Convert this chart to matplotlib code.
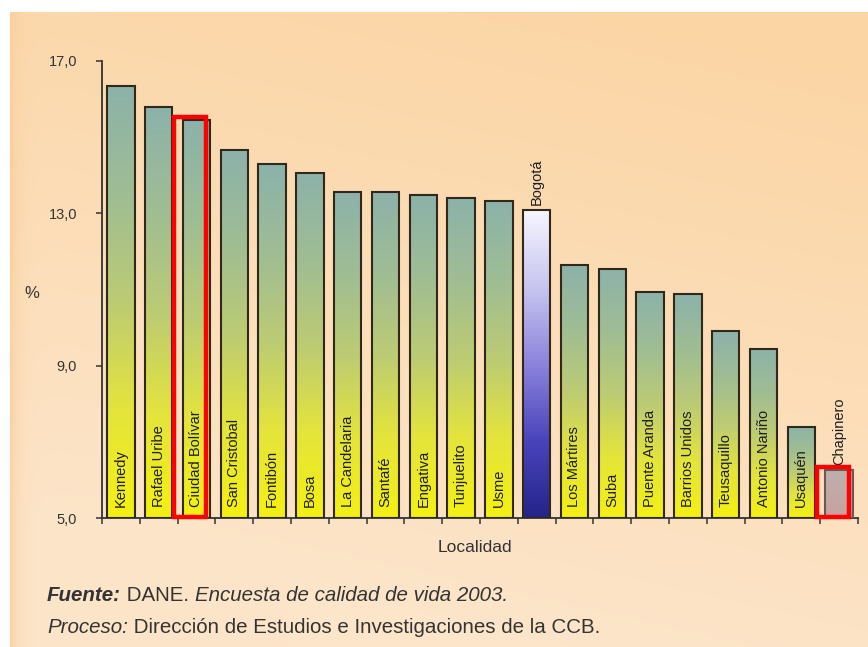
import numpy as np
import matplotlib
matplotlib.use("Agg")
import matplotlib.pyplot as plt
from matplotlib.colors import LinearSegmentedColormap
from matplotlib.patches import Rectangle

plt.rcParams['font.family'] = ['Liberation Sans', 'DejaVu Sans']

localidades = ["Kennedy", "Rafael Uribe", "Ciudad Bolívar", "San Cristobal", "Fontibón",
               "Bosa", "La Candelaria", "Santafé", "Engativa", "Tunjuelito", "Usme",
               "Bogotá", "Los Mártires", "Suba", "Puente Aranda", "Barrios Unidos",
               "Teusaquillo", "Antonio Nariño", "Usaquén", "Chapinero"]
porcentaje = [16.35, 15.80, 15.45, 14.66, 14.29, 14.06, 13.57, 13.57, 13.47, 13.39, 13.32,
              13.10, 11.65, 11.54, 10.94, 10.89, 9.92, 9.44, 7.39, 6.26]
total = "Bogotá"
resaltadas = ["Ciudad Bolívar", "Chapinero"]
yticks = [5.0, 9.0, 13.0, 17.0]

W, H = 868, 647
fig = plt.figure(figsize=(W / 100, H / 100), dpi=100)
fig.patch.set_facecolor('white')

# fondo durazno con degradado suave
yy, xx = np.mgrid[0:H, 0:W].astype(float)
u, v = xx / W, yy / H
w = np.clip(1.1 - v - 0.3 * (1 - u), 0, 1)[..., None]
naranja = np.array([251, 213, 164]) / 255
claro = np.array([253, 229, 202]) / 255
fondo = claro + (naranja - claro) * w
borde = np.exp(-np.clip(xx - 10, 0, None) / 8)[..., None]
fondo = fondo + (np.array([248, 203, 150]) / 255 - fondo) * borde * 0.7
fondo[(yy < 12) | (xx < 10)] = 1.0
bg = fig.add_axes([0, 0, 1, 1], zorder=-5)
bg.imshow(fondo, aspect='auto', interpolation='bilinear')
bg.axis('off')

ax = fig.add_axes([102 / W, 1 - 518 / H, 756 / W, 457 / H])
ax.patch.set_alpha(0)

cm_verde = LinearSegmentedColormap.from_list(
    "verde", ["#f4f012", "#e4e43c", "#bccb74", "#9fbd94", "#8cb2aa"])
cm_azul = LinearSegmentedColormap.from_list(
    "azul", ["#24248a", "#4a44bc", "#8c84dc", "#c8c6f0", "#f6f6ff"])
cm_gris = LinearSegmentedColormap.from_list("gris", ["#c8a2a0", "#bdb0ac"])

x = np.arange(len(localidades)) + 0.5
ancho = 0.72
base = yticks[0]
barras = ax.bar(x, np.array(porcentaje) - base, bottom=base, width=ancho,
                facecolor='none', edgecolor='#30281a', linewidth=1.5, zorder=3)

grad = np.linspace(0, 1, 256).reshape(-1, 1)
for nombre, xi, val, b in zip(localidades, x, porcentaje, barras):
    if nombre == total:
        cmap = cm_azul
    elif nombre == "Chapinero":
        cmap = cm_gris
        b.set_edgecolor('#6a5a55')
    else:
        cmap = cm_verde
    im = ax.imshow(grad, cmap=cmap, extent=[xi - ancho / 2, xi + ancho / 2, base, val],
                   origin='lower', aspect='auto', zorder=2)
    im.set_clip_path(b)
    # etiqueta de la localidad
    if nombre in (total, "Chapinero"):
        ax.text(xi, val + 0.12, nombre, rotation=90, ha='center', va='bottom',
                fontsize=10.5, color='#1e1e1e', zorder=5)
    else:
        ax.text(xi, base + 0.3, nombre, rotation=90, ha='center', va='bottom',
                fontsize=10.5, color='#1e1e1e', zorder=5)

# recuadros rojos
for nombre in resaltadas:
    i = localidades.index(nombre)
    val = porcentaje[i]
    ax.add_patch(Rectangle((x[i] - 0.59, base + 0.03), 0.84, val - base + 0.05,
                           fill=False, edgecolor='#ff0000', linewidth=3.2,
                           zorder=6, clip_on=False))

ax.set_xlim(0, len(localidades))
ax.set_ylim(base, yticks[-1])
ax.set_xticks(np.arange(len(localidades) + 1))
ax.set_xticklabels([])
ax.set_yticks(yticks)
ax.set_yticklabels([f"{t:.1f}".replace('.', ',') for t in yticks])
ax.tick_params(axis='y', length=4, width=1.1, pad=14, labelsize=10.5,
               labelcolor='#333333', color='#333333')
ax.tick_params(axis='x', length=4, width=1.1, color='#333333')
for s in ['top', 'right']:
    ax.spines[s].set_visible(False)
for s in ['left', 'bottom']:
    ax.spines[s].set_color('#333333')
    ax.spines[s].set_linewidth(1.3)

fig.text(32 / W, 1 - 293 / H, "%", fontsize=12, color='#333333', ha='center', va='center')
fig.text(475 / W, 1 - 548 / H, "Localidad", fontsize=12.5, color='#333333',
         ha='center', va='center')

# fuente y proceso: tramos con distinto estilo en la misma linea
def linea(y, tramos, x0=47):
    r = fig.canvas.get_renderer()
    xpos = x0
    for texto, estilo in tramos:
        t = fig.text(xpos / W, y, texto, fontsize=14.8, color='#333333',
                     va='baseline', **estilo)
        xpos = t.get_window_extent(r).x1


linea(1 - 601 / H, [("Fuente:", dict(fontweight='bold', fontstyle='italic')),
                    (" DANE. ", {}),
                    ("Encuesta de calidad de vida 2003.", dict(fontstyle='italic'))])
linea(1 - 633 / H, [("Proceso:", dict(fontstyle='italic')),
                    (" Dirección de Estudios e Investigaciones de la CCB.", {})])

fig.savefig("out.png", dpi=100)
